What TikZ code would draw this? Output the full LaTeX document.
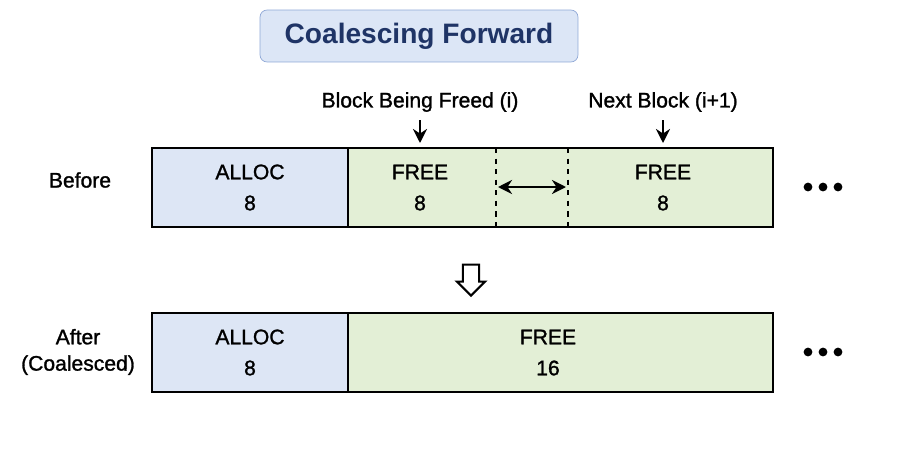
\documentclass[tikz,border=0pt]{standalone}
\usepackage{fontspec}
\setmainfont{Liberation Sans}
\newfontfamily\semi[FakeBold=1.3]{Liberation Sans}
\usetikzlibrary{positioning,arrows.meta,shapes.arrows}

\definecolor{allocfill}{HTML}{DDE6F5}
\definecolor{freefill}{HTML}{E3EFD6}
\definecolor{titlefill}{HTML}{DCE6F6}
\definecolor{titleline}{HTML}{8FA8D6}
\definecolor{titletext}{HTML}{1F3466}

\tikzset{
	cell/.style={draw=black, line width=0.9pt, minimum height=1.58cm, inner sep=0pt},
	alloccell/.style={cell, fill=allocfill},
	freecell/.style={cell, fill=freefill},
	celltext/.style={font=\semi\fontsize{12}{15}\selectfont, align=center},
	rowlabel/.style={font=\semi\fontsize{12}{15}\selectfont, align=center},
	pointer/.style={-{Stealth[length=8pt,width=8pt]}, line width=1.3pt},
	dotmark/.style={circle, fill=black, inner sep=0pt, minimum size=5pt}
}

\begin{document}
\begin{tikzpicture}[x=0.02cm, y=-0.02cm]
\useasboundingbox (0,0) rectangle (900,450);

% title
\node[draw=titleline, fill=titlefill, rounded corners=4pt, minimum width=6.36cm, minimum height=1.04cm,
	font=\fontsize{16}{18}\selectfont\bfseries, text=titletext] (title) at (419,36) {Coalescing Forward};

% before row
\node[alloccell, minimum width=3.92cm] (balloc) at (250,187.5) {};
\node[freecell, minimum width=8.5cm] (bfree) at (560.5,187.5) {};
\draw[dashed, line width=0.8pt] (496,148) -- (496,227);
\draw[dashed, line width=0.8pt] (568,148) -- (568,227);
\coordinate (gapl) at (498,187);
\coordinate (gapr) at (566,187);
\draw[{Stealth[length=8pt,width=8pt]}-{Stealth[length=8pt,width=8pt]}, line width=1.3pt] (gapl) -- (gapr);

\node[celltext] (ballocA) at (250,172) {ALLOC};
\node[celltext] (ballocB) at (250,203) {8};
\node[celltext] (bfreeA) at (420,172) {FREE};
\node[celltext] (bfreeB) at (420,203) {8};
\node[celltext] (bnextA) at (663,172) {FREE};
\node[celltext] (bnextB) at (663,203) {8};

\node[rowlabel] (before) at (80,180) {Before};
\foreach \dx in {0,15,30} {
	\node[dotmark] at (808+\dx,187) {};
	\node[dotmark] at (808+\dx,352) {};
}

\node[rowlabel] (freed) at (420,102) {Block Being Freed (i)};
\node[rowlabel] (next) at (663,102) {Next Block (i+1)};
\coordinate (freedtip) at (420,143);
\coordinate (nexttip) at (663,143);
\draw[pointer] (freed.south) ++(0,2) -- (freedtip);
\draw[pointer] (next.south) ++(0,2) -- (nexttip);

% transition
\node[single arrow, shape border rotate=270, draw=black, line width=1.2pt, fill=white,
	minimum height=0.62cm, minimum width=0.56cm, single arrow head extend=0.1cm] (down) at (471,276) {};

% after row
\node[alloccell, minimum width=3.92cm] (aalloc) at (250,352.5) {};
\node[freecell, minimum width=8.5cm] (afree) at (560.5,352.5) {};
\node[celltext] (aallocA) at (250,337) {ALLOC};
\node[celltext] (aallocB) at (250,368) {8};
\node[celltext] (afreeA) at (548,337) {FREE};
\node[celltext] (afreeB) at (548,368) {16};

\node[rowlabel] (after) at (78,352) {After\\(Coalesced)};

\end{tikzpicture}
\end{document}
